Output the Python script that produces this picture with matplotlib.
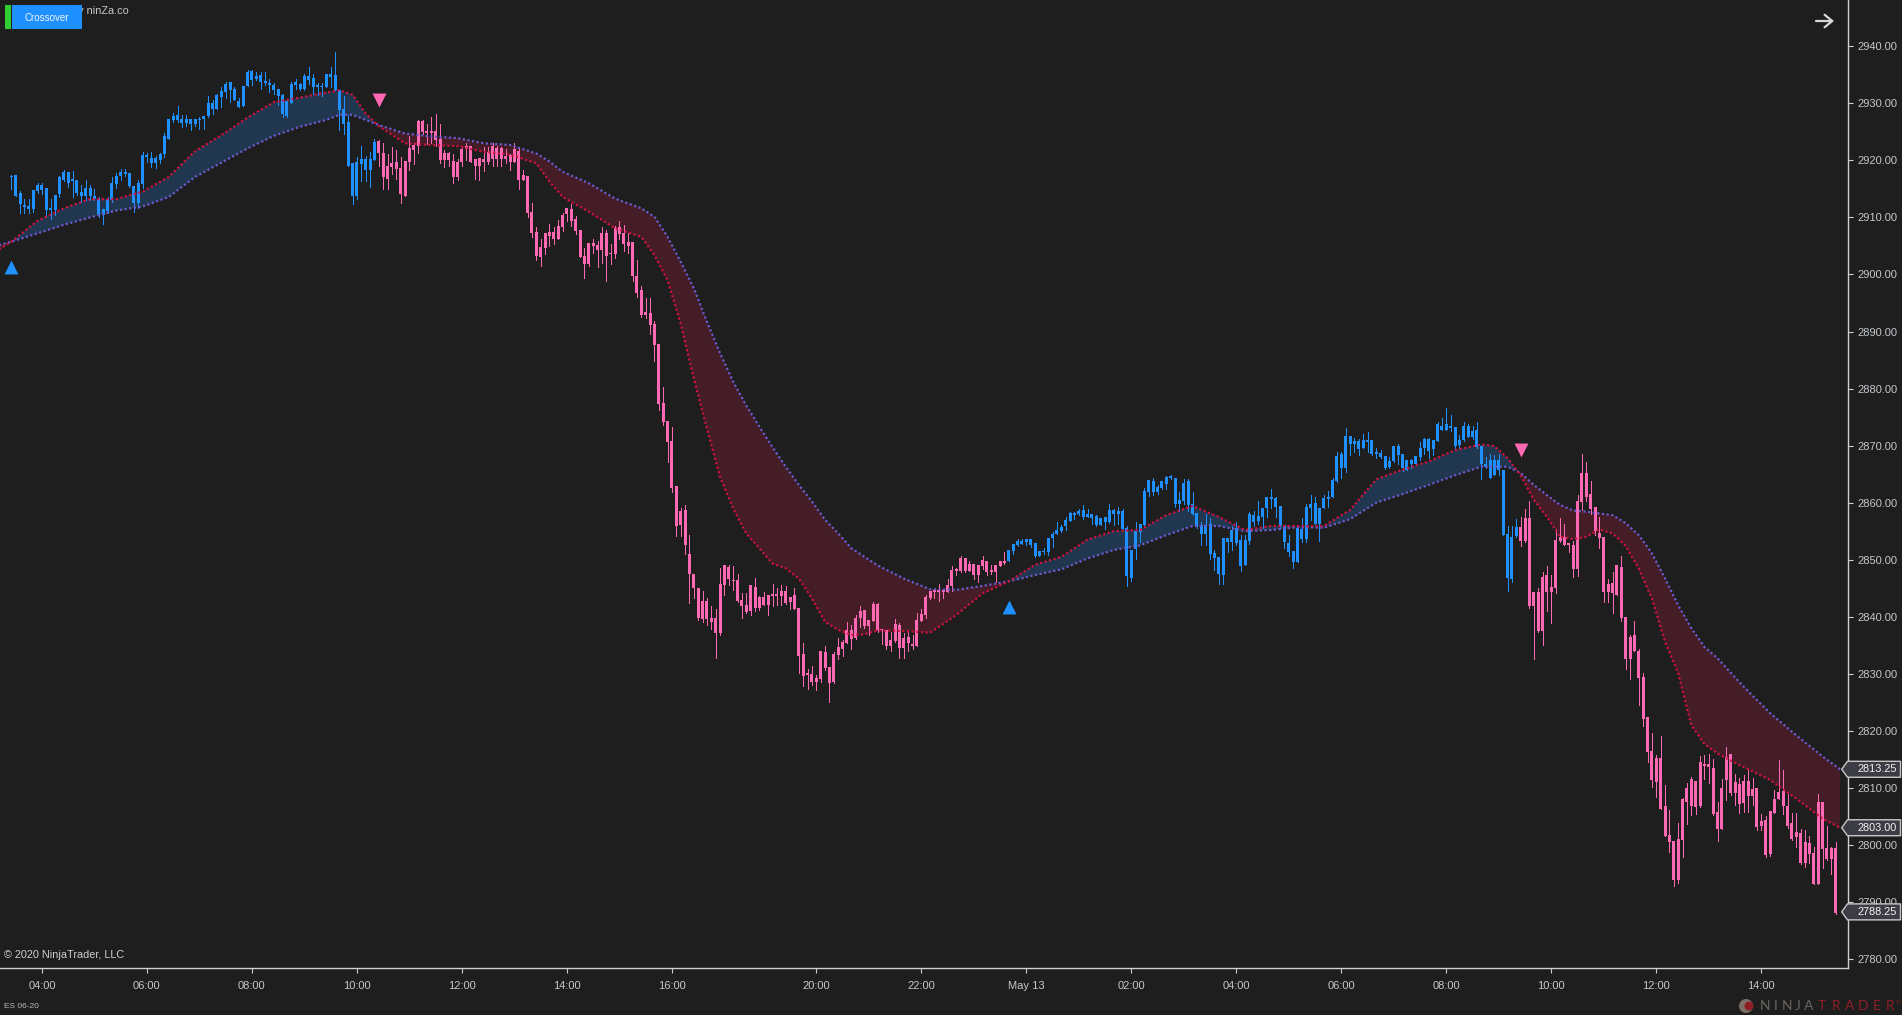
"""
Crossover ribbon on ES 06-20, 5 minute bars, dark NinjaTrader look.
Writes out.png.
"""

import matplotlib
matplotlib.use("Agg")
import matplotlib.pyplot as plt
from matplotlib.patches import Circle, Polygon
import numpy as np


# Bars as (high, body top, body bottom, low), one list per trend leg
bars_up_1 = [
    (2917.5, 2917.2, 2917.0, 2915.0), (2917.4, 2917.4, 2913.8, 2913.8), (2914.6, 2914.2, 2912.3, 2910.7),
    (2913.2, 2912.1, 2911.8, 2910.7), (2913.2, 2912.0, 2911.5, 2910.7), (2914.8, 2914.8, 2911.5, 2911.0),
    (2916.1, 2915.7, 2914.6, 2914.3), (2916.0, 2915.7, 2914.8, 2914.1), (2915.2, 2915.2, 2911.3, 2910.1),
    (2913.2, 2911.5, 2911.3, 2909.8), (2913.9, 2913.9, 2911.3, 2910.4), (2917.3, 2917.0, 2914.1, 2913.6),
    (2918.3, 2917.9, 2916.5, 2916.3), (2917.9, 2917.9, 2916.1, 2915.4), (2918.2, 2916.6, 2916.4, 2913.6),
    (2916.6, 2916.5, 2914.2, 2914.0), (2915.7, 2914.4, 2913.7, 2912.7), (2916.5, 2915.1, 2913.7, 2913.0),
    (2915.7, 2915.1, 2913.7, 2913.0), (2914.9, 2913.7, 2913.3, 2913.0), (2913.6, 2913.2, 2910.6, 2910.1),
    (2911.5, 2911.5, 2910.4, 2908.8), (2913.6, 2913.2, 2911.1, 2910.7), (2917.1, 2916.0, 2913.0, 2912.7),
    (2917.7, 2917.2, 2915.8, 2915.2), (2918.5, 2917.9, 2917.2, 2916.5), (2918.5, 2917.9, 2917.6, 2917.2),
    (2917.8, 2917.8, 2915.5, 2915.4), (2915.5, 2915.5, 2912.5, 2910.9), (2916.5, 2916.0, 2912.5, 2911.6),
    (2921.4, 2920.9, 2915.8, 2915.2), (2921.3, 2920.8, 2920.6, 2919.8), (2921.5, 2920.4, 2919.6, 2918.9),
    (2920.8, 2920.4, 2919.5, 2918.6), (2921.3, 2921.2, 2920.0, 2919.6), (2924.8, 2924.3, 2921.1, 2920.6),
    (2927.3, 2927.2, 2923.8, 2923.7), (2928.3, 2927.7, 2927.0, 2926.8), (2929.5, 2928.0, 2927.0, 2926.8),
    (2928.0, 2927.2, 2926.6, 2925.9), (2928.0, 2927.2, 2926.5, 2926.0), (2927.2, 2927.2, 2926.4, 2925.3),
    (2927.2, 2927.2, 2926.4, 2926.0), (2927.6, 2927.2, 2927.0, 2925.5), (2927.8, 2927.8, 2927.2, 2925.5),
    (2931.3, 2930.1, 2927.8, 2927.6), (2930.6, 2930.1, 2929.0, 2928.2), (2931.7, 2931.4, 2929.0, 2929.0),
    (2932.8, 2932.1, 2931.1, 2929.4), (2933.7, 2933.4, 2932.0, 2930.9), (2933.7, 2933.7, 2932.3, 2930.3),
    (2932.9, 2932.5, 2930.6, 2930.6), (2930.9, 2930.4, 2929.4, 2929.4), (2933.0, 2933.0, 2929.5, 2929.5),
    (2935.8, 2935.5, 2933.0, 2933.0), (2935.8, 2935.7, 2934.1, 2933.2), (2935.5, 2934.8, 2934.3, 2934.1),
    (2935.5, 2935.0, 2933.7, 2932.6), (2935.5, 2933.9, 2933.6, 2933.2), (2934.2, 2933.4, 2933.2, 2932.0),
    (2933.5, 2933.2, 2932.3, 2931.6), (2932.6, 2932.5, 2931.3, 2929.7), (2931.7, 2931.4, 2928.1, 2927.6),
    (2930.4, 2930.4, 2927.8, 2927.6), (2933.8, 2933.4, 2930.1, 2930.1), (2934.2, 2933.7, 2933.2, 2932.5),
    (2933.6, 2933.4, 2932.5, 2932.3), (2935.1, 2934.8, 2932.5, 2932.3), (2936.3, 2934.8, 2934.1, 2933.4),
    (2935.1, 2934.4, 2932.9, 2931.7), (2933.5, 2933.1, 2932.9, 2931.5), (2933.5, 2932.9, 2932.8, 2931.3),
    (2935.1, 2935.1, 2932.8, 2932.8), (2936.3, 2935.1, 2934.6, 2932.9), (2939.0, 2935.0, 2932.3, 2932.3),
    (2932.3, 2932.3, 2928.8, 2925.3), (2931.2, 2929.0, 2926.4, 2924.6), (2927.9, 2926.7, 2919.0, 2919.0),
    (2919.5, 2919.5, 2913.8, 2912.4), (2920.6, 2919.7, 2913.8, 2913.2), (2922.6, 2920.2, 2919.4, 2916.4),
    (2920.8, 2920.2, 2918.3, 2916.3), (2921.5, 2920.2, 2918.3, 2915.4), (2923.7, 2923.2, 2920.1, 2920.0),
]
bars_down_1 = [
    (2923.6, 2923.4, 2921.3, 2919.0), (2923.0, 2921.3, 2917.1, 2915.0), (2921.1, 2919.0, 2916.7, 2915.0),
    (2922.3, 2919.5, 2918.8, 2917.6), (2921.8, 2919.7, 2918.5, 2916.7), (2920.6, 2918.7, 2914.1, 2912.5),
    (2919.9, 2919.9, 2913.7, 2913.7), (2924.3, 2922.2, 2919.7, 2918.3), (2923.0, 2922.7, 2921.8, 2919.4),
    (2927.1, 2926.9, 2922.5, 2921.3), (2927.1, 2926.9, 2925.0, 2924.7), (2926.4, 2925.1, 2924.8, 2922.9),
    (2927.6, 2925.1, 2924.8, 2923.0), (2928.1, 2925.1, 2923.6, 2922.5), (2926.4, 2923.7, 2920.1, 2919.5),
    (2921.8, 2921.3, 2920.1, 2918.9), (2921.5, 2921.3, 2920.1, 2919.0), (2921.1, 2919.9, 2917.1, 2916.0),
    (2920.2, 2919.7, 2917.1, 2916.5), (2922.4, 2922.0, 2919.7, 2919.0), (2923.0, 2922.5, 2922.0, 2920.1),
    (2922.5, 2922.5, 2919.7, 2919.7), (2920.2, 2920.2, 2919.0, 2916.7), (2920.4, 2920.4, 2919.0, 2916.5),
    (2922.4, 2920.2, 2919.7, 2918.1), (2922.4, 2921.5, 2919.7, 2919.4), (2923.0, 2922.5, 2920.2, 2919.0),
    (2922.5, 2922.2, 2920.2, 2919.0), (2922.4, 2922.2, 2920.2, 2919.0), (2922.0, 2920.8, 2920.2, 2919.5),
    (2921.1, 2920.9, 2919.7, 2918.3), (2923.0, 2922.0, 2919.7, 2919.7), (2922.1, 2921.6, 2916.5, 2915.0),
    (2918.4, 2917.4, 2916.5, 2916.5), (2917.2, 2917.2, 2910.8, 2910.1), (2912.5, 2910.9, 2907.3, 2906.6),
    (2908.3, 2907.4, 2903.2, 2902.5), (2906.2, 2904.8, 2903.0, 2901.5), (2907.3, 2907.3, 2904.6, 2903.6),
    (2908.8, 2907.4, 2906.7, 2905.0), (2908.3, 2907.4, 2906.2, 2905.4), (2909.5, 2908.5, 2906.2, 2906.2),
    (2910.7, 2910.4, 2908.3, 2907.7), (2911.6, 2911.6, 2910.6, 2909.4), (2912.3, 2911.5, 2909.4, 2908.5),
    (2910.2, 2909.7, 2907.6, 2907.1), (2907.8, 2907.8, 2903.1, 2903.0), (2904.6, 2903.2, 2901.8, 2899.4),
    (2905.5, 2905.5, 2901.8, 2901.5), (2906.2, 2905.5, 2905.0, 2903.8), (2905.9, 2905.2, 2904.3, 2901.3),
    (2908.3, 2907.3, 2904.3, 2902.0), (2907.8, 2907.3, 2903.2, 2898.8), (2905.3, 2903.8, 2903.5, 2901.8),
    (2908.5, 2908.1, 2903.6, 2902.9), (2909.4, 2908.3, 2907.1, 2906.2), (2908.7, 2907.3, 2905.3, 2904.1),
    (2907.2, 2905.7, 2905.0, 2903.8), (2905.7, 2905.7, 2899.7, 2898.8), (2902.5, 2899.7, 2896.7, 2896.0),
    (2898.0, 2897.3, 2892.9, 2892.5), (2895.9, 2893.4, 2892.9, 2892.4), (2895.9, 2893.2, 2891.1, 2889.6),
    (2891.8, 2891.3, 2887.6, 2884.8), (2887.8, 2887.8, 2877.3, 2876.2), (2880.3, 2877.5, 2874.1, 2873.6),
    (2874.3, 2874.3, 2870.6, 2867.1), (2873.3, 2870.8, 2862.5, 2861.9), (2863.0, 2862.9, 2855.9, 2854.1),
    (2859.0, 2858.5, 2856.1, 2854.1), (2859.6, 2858.7, 2852.5, 2851.0), (2854.3, 2851.0, 2847.5, 2842.4),
    (2847.5, 2847.5, 2845.0, 2843.2), (2845.0, 2845.0, 2839.7, 2839.5), (2844.5, 2842.7, 2839.6, 2839.1),
    (2843.2, 2842.7, 2839.6, 2838.5), (2841.9, 2839.8, 2839.1, 2837.8), (2841.3, 2839.8, 2837.1, 2832.8),
    (2848.5, 2845.7, 2837.1, 2836.8), (2849.1, 2849.1, 2845.5, 2843.8), (2849.1, 2848.7, 2846.6, 2845.5),
    (2848.9, 2846.4, 2846.2, 2844.7), (2847.5, 2846.4, 2842.7, 2842.6), (2844.1, 2842.9, 2841.9, 2839.8),
    (2844.1, 2842.0, 2840.8, 2840.6), (2845.5, 2845.5, 2841.0, 2840.3), (2846.8, 2845.2, 2841.5, 2841.0),
    (2843.6, 2843.4, 2841.5, 2841.2), (2844.3, 2843.4, 2842.0, 2842.0), (2843.8, 2843.8, 2842.0, 2840.3),
    (2845.7, 2844.0, 2843.6, 2841.9), (2845.0, 2844.0, 2843.6, 2842.0), (2845.5, 2844.5, 2843.6, 2842.0),
    (2845.4, 2844.5, 2842.4, 2842.3), (2843.4, 2843.4, 2842.5, 2841.3), (2845.0, 2843.8, 2841.3, 2841.3),
    (2841.5, 2841.5, 2833.1, 2830.1), (2835.4, 2833.5, 2829.6, 2827.8), (2830.8, 2829.9, 2829.8, 2827.3),
    (2831.3, 2829.9, 2828.5, 2828.0), (2829.8, 2829.2, 2828.5, 2827.1), (2834.0, 2834.0, 2829.0, 2828.6),
    (2834.9, 2833.8, 2831.0, 2830.6), (2831.2, 2831.2, 2828.4, 2825.0), (2833.8, 2833.5, 2828.5, 2828.3),
    (2836.3, 2834.7, 2833.3, 2832.6), (2835.9, 2835.5, 2834.3, 2833.1), (2839.0, 2837.6, 2835.4, 2835.4),
    (2838.5, 2837.6, 2836.1, 2834.3), (2840.3, 2839.8, 2836.3, 2836.1), (2841.9, 2841.0, 2839.8, 2838.2),
    (2841.2, 2841.2, 2838.4, 2838.0), (2839.4, 2839.4, 2838.4, 2836.8), (2842.5, 2842.2, 2839.2, 2839.2),
    (2842.4, 2842.2, 2837.7, 2837.3), (2837.9, 2837.8, 2837.6, 2835.3), (2837.7, 2837.6, 2834.9, 2834.3),
    (2837.3, 2835.9, 2834.9, 2834.0), (2839.6, 2838.7, 2835.7, 2835.5), (2838.9, 2838.5, 2834.5, 2832.7),
    (2837.1, 2836.3, 2834.5, 2832.7), (2837.4, 2836.4, 2835.4, 2834.0), (2836.8, 2835.2, 2834.9, 2834.3),
    (2840.6, 2839.4, 2834.9, 2834.9), (2841.3, 2840.5, 2839.2, 2839.2), (2843.8, 2843.4, 2840.3, 2839.8),
    (2844.5, 2844.5, 2843.3, 2843.1), (2844.6, 2844.5, 2844.3, 2843.3), (2845.7, 2844.5, 2844.3, 2842.7),
    (2844.6, 2844.5, 2844.3, 2843.3), (2846.6, 2845.5, 2844.4, 2844.4), (2848.9, 2848.2, 2845.4, 2844.5),
    (2848.5, 2848.2, 2848.0, 2847.3), (2850.6, 2850.3, 2848.0, 2847.8), (2850.3, 2850.3, 2848.0, 2847.9),
    (2849.8, 2849.2, 2848.0, 2848.0), (2849.2, 2849.2, 2847.3, 2846.6), (2849.1, 2849.1, 2847.3, 2846.1),
    (2850.6, 2849.9, 2848.9, 2848.4), (2849.7, 2849.7, 2847.8, 2847.3), (2849.1, 2848.2, 2847.8, 2847.5),
    (2849.1, 2849.1, 2847.8, 2846.1), (2849.8, 2849.8, 2848.9, 2848.9), (2851.3, 2849.8, 2849.5, 2849.2),
]
bars_up_2 = [
    (2851.7, 2851.7, 2849.8, 2849.7), (2852.8, 2852.8, 2851.5, 2851.0), (2853.7, 2853.3, 2852.5, 2852.4),
    (2853.7, 2853.3, 2852.8, 2852.7), (2853.7, 2853.7, 2853.1, 2852.5), (2853.7, 2853.7, 2852.6, 2852.3),
    (2852.9, 2852.9, 2850.6, 2850.5), (2851.5, 2851.5, 2850.6, 2850.6), (2852.0, 2851.4, 2851.3, 2851.0),
    (2853.8, 2853.8, 2851.3, 2850.8), (2854.8, 2854.5, 2853.8, 2852.3), (2856.6, 2855.2, 2854.5, 2854.5),
    (2856.1, 2855.8, 2855.0, 2854.9), (2857.4, 2857.0, 2855.9, 2855.2), (2858.4, 2858.2, 2856.8, 2856.7),
    (2858.4, 2858.1, 2857.9, 2857.1), (2858.9, 2858.5, 2858.0, 2857.8), (2859.6, 2858.7, 2857.4, 2857.2),
    (2858.9, 2858.0, 2857.5, 2857.4), (2858.0, 2858.0, 2857.3, 2856.3), (2857.8, 2857.7, 2856.1, 2855.9),
    (2857.3, 2857.3, 2856.1, 2856.1), (2857.5, 2857.5, 2856.6, 2855.4), (2859.8, 2858.7, 2856.6, 2856.5),
    (2858.9, 2858.7, 2858.0, 2856.1), (2859.3, 2858.5, 2858.0, 2856.3), (2858.9, 2858.5, 2855.4, 2855.3),
    (2855.9, 2855.6, 2847.1, 2845.4), (2851.7, 2851.7, 2846.8, 2846.3), (2856.6, 2855.0, 2851.9, 2850.1),
    (2856.3, 2856.3, 2854.9, 2853.1), (2862.5, 2862.0, 2856.1, 2855.9), (2864.0, 2864.0, 2861.9, 2861.1),
    (2864.3, 2863.8, 2861.9, 2861.3), (2863.1, 2862.7, 2861.9, 2861.5), (2863.8, 2863.8, 2862.6, 2862.4),
    (2864.7, 2864.5, 2863.3, 2862.4), (2864.9, 2864.7, 2864.4, 2864.2), (2864.3, 2864.3, 2859.8, 2859.2),
    (2861.9, 2860.5, 2859.8, 2858.5), (2864.2, 2863.4, 2860.3, 2859.8), (2864.1, 2863.8, 2859.6, 2858.5),
    (2861.8, 2859.8, 2858.0, 2857.8), (2858.2, 2858.2, 2855.9, 2855.5), (2856.6, 2856.1, 2854.5, 2852.6),
    (2858.0, 2856.1, 2854.5, 2852.6), (2857.3, 2856.3, 2851.0, 2850.1), (2851.7, 2851.2, 2850.3, 2848.2),
    (2850.5, 2850.5, 2847.5, 2845.7), (2853.8, 2853.8, 2847.3, 2845.7), (2853.8, 2853.8, 2853.1, 2851.3),
    (2855.9, 2855.2, 2853.1, 2851.7), (2856.6, 2855.6, 2852.9, 2852.6), (2854.3, 2853.5, 2848.9, 2848.0),
    (2854.3, 2853.5, 2849.1, 2849.0), (2858.4, 2858.0, 2853.3, 2852.8), (2858.5, 2857.8, 2856.6, 2855.9),
    (2860.3, 2857.7, 2856.8, 2856.3), (2859.1, 2859.1, 2857.5, 2855.6), (2861.0, 2861.0, 2859.1, 2857.5),
    (2862.4, 2860.8, 2860.6, 2859.0), (2860.9, 2860.8, 2859.2, 2857.5), (2859.4, 2859.4, 2855.9, 2855.5),
    (2856.1, 2856.1, 2853.1, 2852.0), (2854.3, 2852.9, 2851.3, 2850.6), (2851.5, 2851.5, 2849.6, 2848.5),
    (2855.6, 2855.6, 2849.6, 2849.6), (2857.3, 2855.4, 2853.6, 2853.1), (2859.8, 2859.2, 2853.6, 2853.1),
    (2861.3, 2859.8, 2859.1, 2857.0), (2860.9, 2859.9, 2856.3, 2856.3), (2859.1, 2859.1, 2856.3, 2853.3),
    (2861.3, 2860.8, 2859.1, 2859.0), (2862.0, 2861.0, 2860.6, 2859.2), (2864.3, 2864.0, 2861.0, 2861.0),
    (2868.8, 2868.2, 2863.8, 2863.6), (2868.8, 2868.5, 2866.1, 2864.3), (2873.1, 2871.7, 2866.1, 2865.4),
    (2871.7, 2871.7, 2870.3, 2868.4), (2871.3, 2870.8, 2870.3, 2868.8), (2871.2, 2870.8, 2869.4, 2868.4),
    (2872.0, 2871.0, 2869.6, 2869.5), (2872.4, 2870.9, 2870.7, 2868.8), (2871.0, 2871.0, 2868.5, 2868.4),
    (2869.5, 2868.7, 2868.5, 2867.8), (2869.2, 2868.7, 2868.0, 2867.8), (2868.2, 2868.2, 2866.0, 2865.9),
    (2868.0, 2867.3, 2866.3, 2866.0), (2869.9, 2869.9, 2867.3, 2867.1), (2870.3, 2869.9, 2868.4, 2866.8),
    (2868.5, 2868.5, 2866.0, 2865.6), (2867.5, 2867.5, 2865.8, 2865.7), (2867.7, 2867.5, 2866.8, 2866.0),
    (2868.2, 2868.2, 2866.8, 2866.8), (2870.6, 2869.6, 2868.0, 2867.5), (2871.3, 2871.2, 2869.6, 2868.5),
    (2871.3, 2871.2, 2869.1, 2867.8), (2871.0, 2871.0, 2869.4, 2868.4), (2874.1, 2873.8, 2870.8, 2870.8),
    (2874.8, 2873.4, 2872.7, 2872.7), (2876.6, 2873.8, 2872.7, 2872.7), (2875.4, 2873.4, 2873.1, 2872.6),
    (2873.3, 2873.3, 2869.9, 2869.5), (2871.9, 2871.0, 2870.1, 2869.6), (2874.1, 2873.4, 2871.0, 2870.8),
    (2873.8, 2873.4, 2871.5, 2871.5), (2873.4, 2872.6, 2871.5, 2871.2), (2874.1, 2872.7, 2869.8, 2869.6),
    (2869.9, 2869.9, 2866.8, 2864.1), (2868.0, 2866.8, 2866.2, 2866.0), (2868.5, 2867.5, 2864.4, 2864.4),
    (2868.4, 2867.5, 2864.9, 2864.9), (2868.5, 2867.5, 2865.7, 2864.9), (2865.7, 2865.7, 2854.3, 2854.3),
    (2855.9, 2854.5, 2846.8, 2844.5), (2855.9, 2854.0, 2846.6, 2846.1), (2857.1, 2855.7, 2854.1, 2853.9),
]
bars_down_2 = [
    (2857.4, 2855.7, 2853.3, 2852.4), (2858.8, 2857.3, 2853.3, 2853.1), (2860.2, 2857.3, 2841.9, 2841.6),
    (2844.3, 2844.3, 2841.9, 2832.6), (2845.0, 2844.3, 2837.5, 2837.4), (2847.8, 2846.9, 2837.5, 2835.0),
    (2848.9, 2847.3, 2844.3, 2841.0), (2847.3, 2845.2, 2844.3, 2838.9), (2855.3, 2853.4, 2845.0, 2844.1),
    (2857.3, 2854.0, 2853.3, 2853.1), (2856.2, 2854.0, 2852.6, 2852.6), (2852.8, 2852.8, 2852.6, 2851.3),
    (2853.2, 2852.6, 2848.4, 2846.9), (2861.3, 2860.3, 2848.4, 2847.1), (2868.5, 2865.2, 2860.1, 2858.7),
    (2867.1, 2865.2, 2861.0, 2860.3), (2863.8, 2861.5, 2858.9, 2858.0), (2859.2, 2859.2, 2855.0, 2854.3),
    (2857.5, 2854.7, 2853.8, 2852.0), (2854.0, 2854.0, 2844.3, 2842.5), (2846.6, 2845.7, 2844.3, 2842.6),
    (2847.8, 2845.9, 2844.2, 2840.6), (2849.0, 2849.0, 2843.8, 2843.8), (2850.6, 2848.7, 2839.8, 2839.2),
    (2840.0, 2840.0, 2832.6, 2830.8), (2836.8, 2836.4, 2832.6, 2829.0), (2839.2, 2836.8, 2834.0, 2833.9),
    (2834.4, 2834.0, 2829.2, 2824.5), (2830.1, 2829.4, 2822.0, 2820.8), (2822.4, 2822.4, 2816.3, 2814.5),
    (2819.6, 2816.5, 2811.4, 2810.1), (2815.7, 2815.2, 2811.0, 2808.4), (2819.1, 2815.2, 2806.3, 2806.3),
    (2810.5, 2806.8, 2801.5, 2801.5), (2806.1, 2801.7, 2800.5, 2798.7), (2800.6, 2800.6, 2793.8, 2792.7),
    (2803.8, 2801.0, 2793.8, 2793.4), (2808.3, 2808.0, 2800.8, 2797.9), (2810.8, 2810.0, 2807.5, 2803.6),
    (2811.9, 2811.5, 2806.8, 2805.2), (2811.2, 2811.2, 2806.6, 2805.4), (2815.6, 2814.5, 2806.8, 2806.7),
    (2815.7, 2814.1, 2813.9, 2811.5), (2816.0, 2814.2, 2813.6, 2810.8), (2815.1, 2813.5, 2805.4, 2805.3),
    (2807.5, 2805.7, 2802.8, 2800.6), (2811.6, 2810.0, 2802.8, 2802.8), (2817.2, 2815.4, 2811.4, 2807.9),
    (2815.9, 2815.9, 2809.1, 2808.7), (2812.5, 2811.0, 2809.1, 2807.0), (2811.8, 2810.7, 2807.2, 2805.6),
    (2812.2, 2811.2, 2807.3, 2805.8), (2813.1, 2811.2, 2808.6, 2805.8), (2811.8, 2809.8, 2808.6, 2807.0),
    (2810.0, 2809.9, 2803.1, 2802.6), (2805.4, 2804.2, 2803.3, 2802.6), (2805.1, 2804.3, 2798.2, 2797.9),
    (2805.9, 2805.9, 2798.4, 2798.0), (2809.6, 2808.1, 2805.6, 2805.6), (2814.9, 2809.3, 2808.0, 2808.0),
    (2813.1, 2809.4, 2806.8, 2805.4), (2808.9, 2806.8, 2803.3, 2803.0), (2805.5, 2803.8, 2801.0, 2800.9),
    (2805.6, 2802.2, 2801.4, 2799.7), (2802.7, 2802.1, 2796.9, 2796.7), (2802.6, 2800.5, 2796.8, 2796.2),
    (2801.5, 2800.3, 2798.4, 2796.9), (2799.7, 2798.6, 2793.1, 2793.1), (2808.9, 2807.5, 2793.1, 2793.1),
    (2807.5, 2807.5, 2799.3, 2796.0), (2803.3, 2799.4, 2797.5, 2797.3), (2799.6, 2799.4, 2797.5, 2794.9),
    (2800.5, 2799.4, 2788.0, 2787.9),
]

# Ribbon lines, closer together where they bend
ma_bars = [-3, 0, 6, 12, 18, 24, 30, 36, 42, 48, 54, 60, 66, 72, 75, 78, 81, 84, 90, 96, 102, 108, 114, 120,
           123, 126, 132, 138, 144, 147, 150, 153, 156, 159, 162, 165, 168, 171, 174, 177, 180, 183, 186,
           189, 192, 195, 198, 204, 210, 216, 222, 228,
           234, 240, 246, 252, 258, 264, 270, 276, 282, 288, 294, 300, 306, 312, 318, 324, 330, 336, 339,
           342, 345, 348, 351, 354, 357, 360, 363, 366, 369, 372, 375, 378, 381, 384, 387, 390, 396, 402,
           408, 414, 418]
fast_ma = [2904.3, 2905.75, 2909.4, 2911.6, 2913.2, 2913.2, 2914.5, 2917.1, 2921.6, 2924.4, 2927.5, 2930.2,
           2931.0, 2931.9, 2932.3, 2931.5, 2928.2, 2926.0, 2923.0, 2922.7, 2922.5, 2921.5, 2921.0, 2919.5,
           2916.3, 2913.6, 2911.0, 2908.1, 2906.6, 2903.4, 2899.0, 2891.4, 2881.8, 2873.0, 2864.5, 2859.0,
           2854.6, 2852.0, 2849.3, 2848.5, 2846.7, 2843.2, 2839.1,
           2837.7, 2836.8, 2836.9, 2837.6, 2837.5, 2837.2, 2840.3, 2844.1, 2846.2,
           2849.1, 2850.5, 2853.5, 2855.0, 2855.2, 2857.8, 2859.4, 2857.5, 2855.2, 2855.9, 2855.9, 2855.9,
           2858.7, 2864.1, 2865.8, 2867.2, 2869.2, 2870.2, 2869.9,
           2867.8, 2864.8, 2860.5, 2857.5, 2854.0, 2853.6, 2854.0, 2855.3, 2854.6, 2852.4, 2848.4, 2843.2,
           2835.6, 2830.1, 2821.0, 2817.7, 2816.0, 2813.6, 2811.4, 2808.1, 2804.6, 2803.0]
slow_ma = [2905.1, 2905.75, 2907.2, 2908.7, 2910.0, 2911.2, 2911.9, 2913.6, 2917.1, 2919.6, 2922.1, 2924.3,
           2925.9, 2927.1, 2928.0, 2928.0, 2927.1, 2926.2, 2924.7, 2924.2, 2923.9, 2923.0, 2922.7, 2921.2,
           2919.8, 2918.0, 2916.0, 2913.3, 2911.6, 2910.1, 2906.6, 2902.2, 2897.6, 2891.7, 2886.2, 2881.2,
           2877.0, 2873.3, 2869.7, 2866.3, 2863.1, 2860.2, 2857.0,
           2854.6, 2852.0, 2850.5, 2849.0, 2846.7, 2844.8, 2844.7, 2845.4, 2846.2,
           2847.3, 2848.3, 2850.2, 2851.7, 2852.5, 2854.3, 2855.9, 2855.9, 2855.0, 2855.2, 2855.7, 2855.6,
           2857.1, 2860.0, 2861.5, 2863.1, 2864.8, 2866.3, 2866.3,
           2866.3, 2865.2, 2863.1, 2861.3, 2859.6, 2858.6, 2858.4, 2858.1, 2857.8, 2856.4, 2854.3, 2851.1,
           2846.7, 2842.0, 2838.0, 2834.7, 2832.7, 2827.7, 2823.1, 2819.2, 2815.5, 2813.25]

# Crossover arrows
up_signal_bars = [0, 228]
up_signal_prices = [2901.3, 2841.7]
down_signal_bars = [84, 345]
down_signal_prices = [2930.6, 2869.2]

time_tick_bars = [7, 31, 55, 79, 103, 127, 151, 184, 208, 232, 256, 280, 304, 328, 352, 376, 400]
time_tick_labels = ["04:00", "06:00", "08:00", "10:00", "12:00", "14:00", "16:00", "20:00", "22:00",
                    "May 13", "02:00", "04:00", "06:00", "08:00", "10:00", "12:00", "14:00"]
price_ticks = list(range(2780, 2950, 10))
price_flags = [2813.25, 2803.00, 2788.25]

BG = "#1E1E1E"
BLUE = "#1E90FF"
PINK = "#FF69B4"
AXIS = "#CFCFCF"
LABEL = "#C4C8CC"
FONT = "Liberation Sans"

W, H = 1902, 1015
PLOT_R, PLOT_B = 1848, 968
# bar 0 sits at x=11.3 px with 4.375 px per bar, 5.704 px per point
XLIM = (-11.3 / 4.375, (PLOT_R - 11.3) / 4.375)
YLIM = (2940 - (PLOT_B - 46.3) / 5.704, 2940 + 46.3 / 5.704)


def draw_candles(ax, bars, start, color):
    rows = np.array(bars)
    x = start + np.arange(len(rows))
    ax.vlines(x, rows[:, 3], rows[:, 0], color=color, lw=0.7, zorder=2, antialiased=False)
    # a doji still needs a visible body
    heights = np.maximum(rows[:, 1] - rows[:, 2], 0.3)
    ax.bar(x, heights, bottom=rows[:, 2], width=0.68, color=color, lw=0, zorder=2, antialiased=False)
    return start + len(rows)


def draw_ribbon(ax):
    x = np.array(ma_bars, dtype=float)
    fast = np.array(fast_ma)
    slow = np.array(slow_ma)
    ax.fill_between(x, fast, slow, where=fast >= slow, interpolate=True,
                    color="#20374F", lw=0, zorder=1)
    ax.fill_between(x, fast, slow, where=fast <= slow, interpolate=True,
                    color="#451D27", lw=0, zorder=1)
    dots = (0, (1, 1.1))
    ax.plot(x, slow, color="#6A5ACD", lw=1.6, ls=dots, zorder=3)
    ax.plot(x, fast, color="#CC1240", lw=1.6, ls=dots, zorder=3)


def draw_price_flags(ax):
    trans = ax.get_yaxis_transform()
    for p in price_flags:
        pts = [(1841.7, p), (1847.5, p + 1.4), (1900.5, p + 1.4), (1900.5, p - 1.4), (1847.5, p - 1.4)]
        pts = [(px / PLOT_R, y) for px, y in pts]
        ax.add_patch(Polygon(pts, closed=True, transform=trans, facecolor="#3C3C44",
                             edgecolor="#C8C8C8", lw=1, clip_on=False, zorder=10))
        ax.text(1857 / PLOT_R, p, f"{p:.2f}", transform=trans, color="#F4F4F4", fontsize=7.8,
                family=FONT, va="center", ha="left", clip_on=False, zorder=11)


def draw_overlay(fig):
    over = fig.add_axes([0, 0, 1, 1], facecolor="none")
    over.set_xlim(0, W)
    over.set_ylim(H, 0)
    over.axis("off")

    over.text(129, 11, "by ninZa.co", color="#C8C8C8", fontsize=7.8, family=FONT, ha="right", va="center")
    over.fill_between([5, 11], 5, 29, color="#32CD32", lw=0)
    over.fill_between([12, 82], 5, 29, color=BLUE, lw=0, zorder=3)
    over.text(47, 18, "Crossover", color="#F4F4F4", fontsize=7, family=FONT, ha="center", va="center", zorder=4)

    over.text(4, 955, "\u00a9 2020 NinjaTrader, LLC", color="#D0D0D0", fontsize=7.8, family=FONT, va="center")
    over.text(4, 1006, "ES 06-20", color="#B8B8B8", fontsize=6, family=FONT, va="center")

    over.annotate("", xy=(1834, 21), xytext=(1816, 21),
                  arrowprops=dict(arrowstyle="->,head_length=0.55,head_width=0.45", color="#D8D8D8", lw=1.6,
                                  shrinkA=0, shrinkB=0))

    # logo and wordmark, bottom right
    over.add_patch(Circle((1746, 1006), 7, facecolor="#7A6F66", edgecolor="none"))
    over.add_patch(Circle((1749, 1006), 4.5, facecolor="#8E1E24", edgecolor="none"))
    for i, ch in enumerate("NINJA"):
        over.text(1765 + i * 11, 1006, ch, color="#6B6560", fontsize=10, family="Lato", ha="center", va="center")
    for i, ch in enumerate("TRADER"):
        over.text(1822 + i * 13.6, 1006, ch, color="#8E1E24", fontsize=10, family="Lato", ha="center", va="center")
    over.text(1898.5, 1003, "\u00ae", color="#8E1E24", fontsize=4.5, family=FONT, ha="center", va="center")


def main():
    fig = plt.figure(figsize=(W / 100, H / 100), dpi=100, facecolor=BG)
    ax = fig.add_axes([0, 1 - PLOT_B / H, PLOT_R / W, PLOT_B / H], facecolor=BG)

    draw_ribbon(ax)
    next_bar = draw_candles(ax, bars_up_1, 0, BLUE)
    next_bar = draw_candles(ax, bars_down_1, next_bar, PINK)
    next_bar = draw_candles(ax, bars_up_2, next_bar, BLUE)
    draw_candles(ax, bars_down_2, next_bar, PINK)

    ax.scatter(up_signal_bars, up_signal_prices, marker="^", s=100, color=BLUE, lw=0, zorder=4)
    ax.scatter(down_signal_bars, down_signal_prices, marker="v", s=100, color=PINK, lw=0, zorder=4)

    ax.set_xlim(*XLIM)
    ax.set_ylim(*YLIM)
    ax.spines[["left", "top"]].set_visible(False)
    ax.spines[["right", "bottom"]].set_color(AXIS)
    ax.spines[["right", "bottom"]].set_linewidth(1.0)
    ax.yaxis.tick_right()
    ax.set_yticks(price_ticks)
    ax.set_yticklabels([f"{p:.2f}" for p in price_ticks], family=FONT, fontsize=8, color=LABEL)
    ax.set_xticks(time_tick_bars)
    ax.set_xticklabels(time_tick_labels, family=FONT, fontsize=8, color=LABEL)
    ax.tick_params(axis="y", length=3.6, width=0.8, color=AXIS, pad=3)
    ax.tick_params(axis="x", length=3.6, width=0.8, color=AXIS, pad=5.5)

    draw_price_flags(ax)
    draw_overlay(fig)

    fig.savefig("out.png", dpi=100, facecolor=BG)
    plt.close(fig)


if __name__ == "__main__":
    main()
